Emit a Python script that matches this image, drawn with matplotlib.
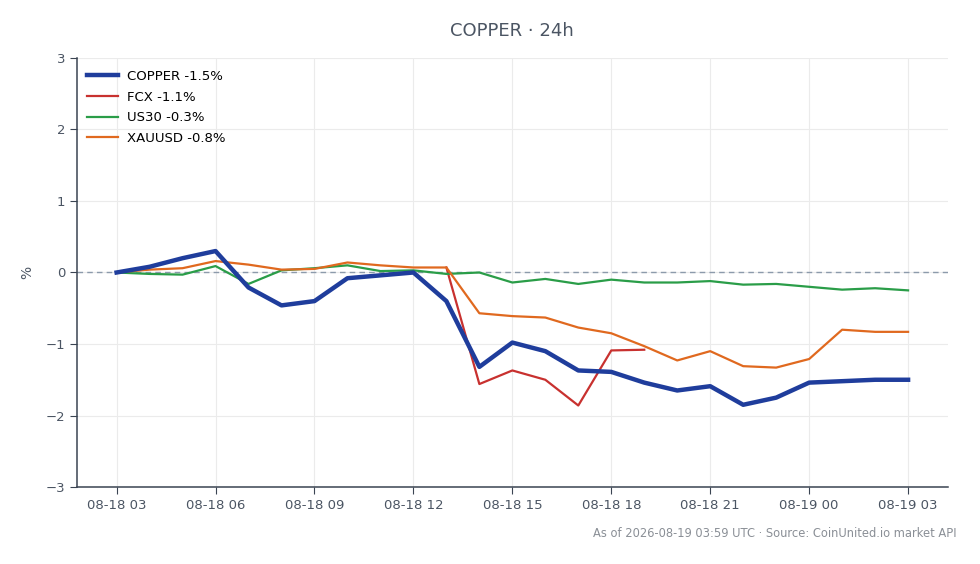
import numpy as np
import pandas as pd
import matplotlib
matplotlib.use('Agg')
import matplotlib.pyplot as plt
import matplotlib.dates as mdates

# --- data (percent change vs. start, hourly) ---
times = pd.date_range('2026-08-18 03:00', '2026-08-19 03:00', freq='h')

copper = [0.00, 0.08, 0.20, 0.30, -0.21, -0.46, -0.40, -0.08, -0.04, 0.00,
          -0.40, -1.32, -0.98, -1.10, -1.37, -1.39, -1.54, -1.65, -1.59, -1.85,
          -1.75, -1.54, -1.52, -1.50, -1.50]
fcx = [np.nan] * 10 + [0.07, -1.56, -1.37, -1.50, -1.86, -1.09, -1.08] + [np.nan] * 8
us30 = [0.00, -0.02, -0.03, 0.09, -0.16, 0.03, 0.06, 0.10, 0.02, 0.03,
        -0.02, 0.00, -0.14, -0.09, -0.16, -0.10, -0.14, -0.14, -0.12, -0.17,
        -0.16, -0.20, -0.24, -0.22, -0.25]
xauusd = [0.00, 0.04, 0.06, 0.16, 0.11, 0.04, 0.05, 0.14, 0.10, 0.07,
          0.07, -0.57, -0.61, -0.63, -0.77, -0.85, -1.03, -1.23, -1.10, -1.31,
          -1.33, -1.21, -0.80, -0.83, -0.83]

labels = ['COPPER -1.5%', 'FCX -1.1%', 'US30 -0.3%', 'XAUUSD -0.8%']

text_col = '#4b5563'

fig = plt.figure(figsize=(9.8, 5.64), dpi=100)
ax = fig.add_axes([0.0786, 0.1365, 0.8884, 0.7607])

ax.axhline(0, color='#8c9aab', linestyle='--', linewidth=1, dashes=(4, 3), zorder=1)

ax.plot(times, copper, color='#1f3d9c', linewidth=3.2, label=labels[0], zorder=3)
ax.plot(times, fcx, color='#c8312f', linewidth=1.6, label=labels[1], zorder=2)
ax.plot(times, us30, color='#2a9d48', linewidth=1.6, label=labels[2], zorder=2)
ax.plot(times, xauusd, color='#e0691f', linewidth=1.6, label=labels[3], zorder=2)

ax.set_ylim(-3, 3)
ax.set_yticks([-3, -2, -1, 0, 1, 2, 3])
ax.set_yticklabels(['\u22123', '\u22122', '\u22121', '0', '1', '2', '3'])
ax.xaxis.set_major_locator(mdates.HourLocator(byhour=[0, 3, 6, 9, 12, 15, 18, 21]))
ax.xaxis.set_major_formatter(mdates.DateFormatter('%m-%d %H'))

ax.grid(True, color='#ebebeb', linewidth=0.8)
ax.set_axisbelow(True)
for s in ['top', 'right']:
    ax.spines[s].set_visible(False)
for s in ['left', 'bottom']:
    ax.spines[s].set_color('#3a4452')
    ax.spines[s].set_linewidth(1.1)
ax.tick_params(colors='#3a4452', labelcolor=text_col, labelsize=9.5, length=5)

ax.set_ylabel('%', color=text_col, fontsize=10, labelpad=8)
ax.set_title('COPPER \u00b7 24h', color=text_col, fontsize=13, pad=16)

leg = ax.legend(loc='upper left', frameon=False, fontsize=9.5, handlelength=2.3,
                handletextpad=0.7, labelspacing=0.58, bbox_to_anchor=(-0.002, 1.0))

fig.text(0.976, 0.054, 'As of 2026-08-19 03:59 UTC \u00b7 Source: CoinUnited.io market API',
         ha='right', va='center', color='#8a8f96', fontsize=8.3)

fig.savefig('out.png', dpi=100)
